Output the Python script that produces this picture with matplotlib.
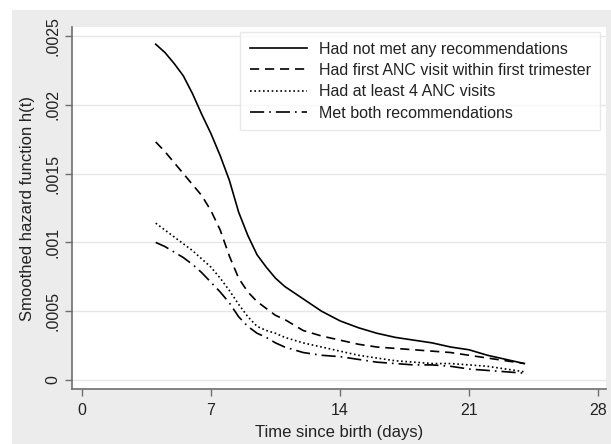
import matplotlib
matplotlib.use("Agg")
import matplotlib.pyplot as plt
from matplotlib.patches import Rectangle

plt.rcParams["font.family"] = ["Liberation Sans", "DejaVu Sans"]

# smoothed hazard estimates
days = [4, 4.5, 5, 5.5, 6, 6.5, 7, 7.5, 8, 8.5, 9, 9.5, 10, 10.5, 11, 12, 13,
        14, 15, 16, 17, 18, 19, 20, 21, 22, 23, 24]
none_met = [0.00244, 0.00238, 0.00230, 0.00221, 0.00208, 0.00193, 0.00179,
            0.00163, 0.00145, 0.00122, 0.00105, 0.00091, 0.00082, 0.00074,
            0.00068, 0.00059, 0.00050, 0.00043, 0.00038, 0.00034, 0.00031,
            0.00029, 0.00027, 0.00024, 0.00022, 0.00018, 0.00015, 0.00012]
first_tri = [0.00173, 0.00166, 0.00158, 0.00150, 0.00142, 0.00134, 0.00123,
             0.00109, 0.00090, 0.00074, 0.00064, 0.00057, 0.00052, 0.00047,
             0.00044, 0.00036, 0.00032, 0.00029, 0.00026, 0.00024, 0.00023,
             0.00022, 0.00021, 0.00020, 0.00018, 0.00016, 0.00014, 0.00012]
four_visits = [0.00114, 0.00109, 0.00104, 0.00099, 0.00094, 0.00088, 0.00082,
               0.00074, 0.00065, 0.00055, 0.00046, 0.00039, 0.00036, 0.00034,
               0.00031, 0.00027, 0.00024, 0.00021, 0.00018, 0.00016, 0.00014,
               0.00013, 0.00012, 0.00012, 0.00011, 0.00010, 0.00008, 0.00006]
both_met = [0.00100, 0.00097, 0.00093, 0.00089, 0.00084, 0.00078, 0.00071,
            0.00064, 0.00056, 0.00046, 0.00039, 0.00034, 0.00031, 0.00027,
            0.00024, 0.00020, 0.00018, 0.00017, 0.00015, 0.00013, 0.00012,
            0.00011, 0.00011, 0.00010, 0.00008, 0.00007, 0.00006, 0.00005]

labels = ["Had not met any recommendations",
          "Had first ANC visit within first trimester",
          "Had at least 4 ANC visits",
          "Met both recommendations"]
x_ticks = [0, 7, 14, 21, 28]
y_ticks = [0, 0.0005, 0.001, 0.0015, 0.002, 0.0025]
y_ticklabels = ["0", ".0005", ".001", ".0015", ".002", ".0025"]

W, H = 611, 444
fig = plt.figure(figsize=(W / 100, H / 100), dpi=100, facecolor="white")
# grey graph region (Stata style) inside a thin white border
fig.add_artist(Rectangle((12 / W, 0), 1 - 12 / W, 1 - 10 / H,
                         transform=fig.transFigure, facecolor="#ececec",
                         edgecolor="none", zorder=-10))

L, R, T, B = 72, 606, 27, 389
ax = fig.add_axes([L / W, 1 - B / H, (R - L) / W, (B - T) / H])
ax.set_facecolor("white")

styles = [dict(ls="-"),
          dict(ls=(0, (5.5, 3.5))),
          dict(ls=(0, (1, 1.6))),
          dict(ls=(0, (8.5, 3, 1, 3)))]
for vals, lab, st in zip([none_met, first_tri, four_visits, both_met], labels, styles):
    ax.plot(days, vals, color="black", lw=1.2, label=lab, solid_joinstyle="round", **st)

ax.set_xlim(-0.54, 28.43)
ax.set_ylim(-0.000065, 0.002565)
ax.set_xticks(x_ticks)
ax.set_yticks(y_ticks)
ax.set_yticklabels(y_ticklabels, rotation=90, va="center")
ax.grid(axis="y", color="#e6e6e6", lw=1)
ax.set_axisbelow(True)

for side in ["top", "right"]:
    ax.spines[side].set_visible(False)
for side in ["left", "bottom"]:
    ax.spines[side].set_color("#6e6e6e")
    ax.spines[side].set_linewidth(1.2)
ax.tick_params(colors="#6e6e6e", labelcolor="#222222", labelsize=11.5, length=5, width=1)
ax.tick_params(axis="x", pad=5)

ax.set_xlabel("Time since birth (days)", fontsize=12, color="#222222", labelpad=5)
ax.set_ylabel("Smoothed hazard function h(t)", fontsize=12, color="#222222", labelpad=7)

leg = ax.legend(loc="upper right", bbox_to_anchor=(0.989, 0.986), frameon=True,
                fancybox=False, fontsize=11.5, handlelength=3.6, handletextpad=0.72,
                labelspacing=0.4, borderpad=0.6, borderaxespad=0)
leg.get_frame().set_edgecolor("#e4e4e4")
leg.get_frame().set_linewidth(1)
for t in leg.get_texts():
    t.set_color("#222222")

fig.savefig("out.png", dpi=100, facecolor=fig.get_facecolor())
